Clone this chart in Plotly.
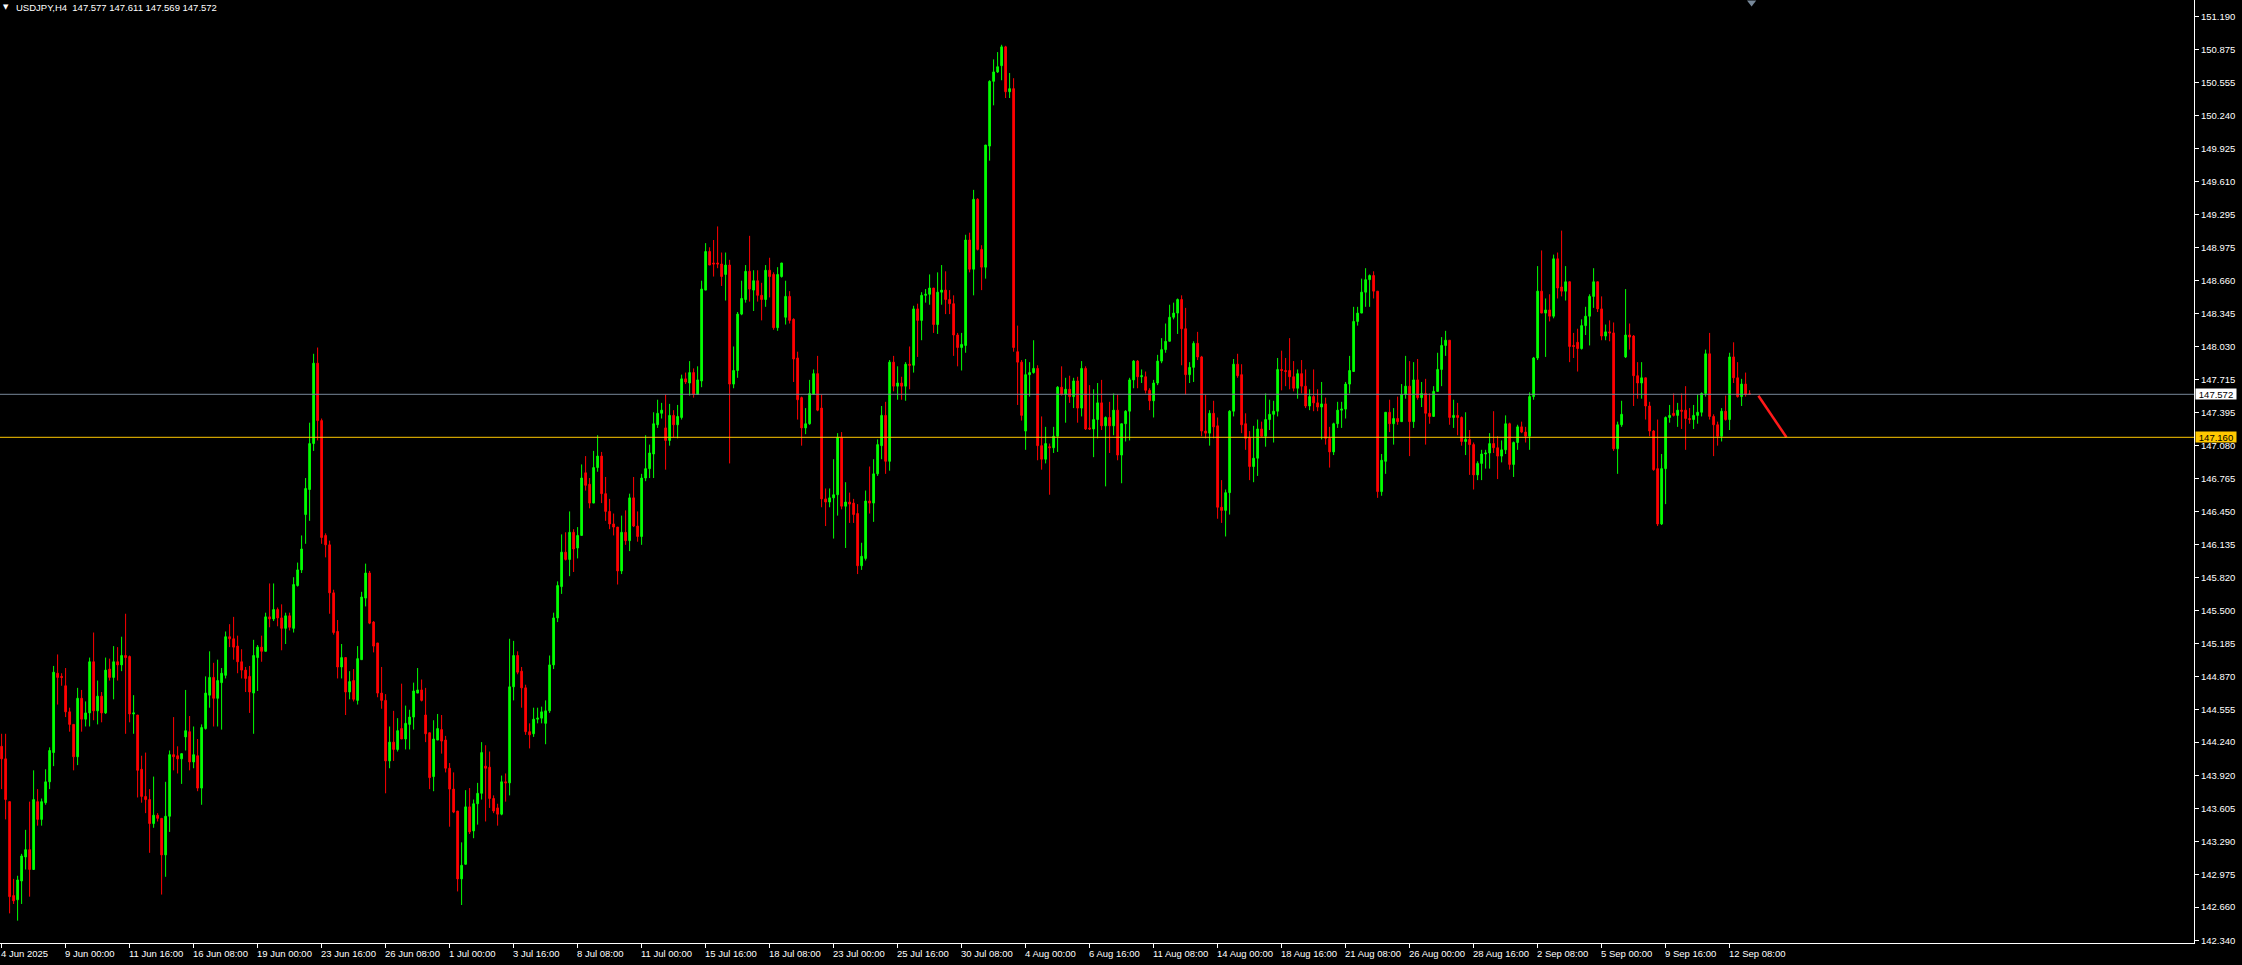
import plotly.graph_objects as go

# ---------------- data (USDJPY, H4) ----------------
symbol = "USDJPY,H4"

opens = [
144.20,144.08,143.67,142.77,142.73,142.91,143.14,143.21,143.02,143.67,
143.50,143.66,143.86,144.14,144.90,144.87,144.78,144.53,144.41,144.10,
144.66,144.46,144.52,145.01,144.54,144.68,144.52,144.94,144.86,145.01,
144.98,145.07,145.06,144.51,144.50,143.98,143.72,143.69,143.46,143.54,
143.51,143.16,143.53,144.12,144.11,144.08,144.29,144.34,144.05,144.11,
143.80,144.37,144.69,144.86,144.66,144.81,144.88,145.25,145.23,145.16,
145.01,144.93,144.87,144.71,145.05,145.15,145.11,145.44,145.42,145.51,
145.43,145.33,145.45,145.33,145.74,145.89,146.42,146.66,147.10,147.87,
147.32,146.22,146.13,145.67,145.30,144.96,145.05,144.72,144.83,144.64,
145.03,145.62,145.86,145.39,145.19,144.71,144.64,144.06,144.24,144.17,
144.37,144.27,144.41,144.48,144.71,144.74,144.50,144.33,143.91,144.26,
144.36,144.26,143.99,143.79,143.58,142.93,143.07,143.62,143.39,143.65,
143.75,144.01,144.00,143.70,143.61,143.55,143.86,143.85,144.77,145.07,
144.92,144.76,144.34,144.32,144.46,144.47,144.42,144.54,144.98,145.43,
145.73,146.06,145.99,146.25,146.10,146.22,146.82,146.71,146.53,146.87,
146.98,146.62,146.45,146.33,146.30,145.88,146.25,146.17,146.58,146.31,
146.21,146.77,146.86,147.00,147.28,147.39,147.25,147.13,147.37,147.28,
147.35,147.72,147.68,147.78,147.57,147.70,148.57,148.94,148.83,148.83,
148.82,148.72,148.81,147.67,147.80,148.34,148.48,148.75,148.57,148.66,
148.52,148.48,148.76,148.72,148.21,148.70,148.31,148.51,148.29,147.92,
147.54,147.25,147.29,147.57,147.77,147.44,146.57,146.54,146.58,146.61,
147.16,146.50,146.54,146.53,146.43,145.93,146.00,146.55,146.53,146.81,
147.08,147.37,146.93,147.88,147.65,147.68,147.65,147.86,147.85,148.39,
148.28,148.52,148.53,148.59,148.24,148.55,148.57,148.48,148.44,148.14,
148.02,148.04,149.05,148.77,149.44,148.96,148.79,149.95,150.57,150.66,
150.72,150.90,150.47,150.50,147.98,147.88,147.22,147.76,147.78,147.82,
147.08,146.95,147.07,147.06,147.17,147.64,147.57,147.62,147.55,147.70,
147.44,147.82,147.25,147.24,147.33,147.49,147.27,147.35,147.27,147.42,
146.99,147.29,147.41,147.71,147.89,147.74,147.74,147.61,147.51,147.68,
147.89,148.00,148.08,148.31,148.35,148.48,148.20,147.76,147.83,148.06,
147.93,147.22,147.20,147.39,147.27,146.49,146.46,146.63,147.41,147.86,
147.76,147.29,147.16,146.88,146.96,147.24,147.17,147.33,147.38,147.41,
147.81,147.80,147.80,147.74,147.63,147.77,147.65,147.46,147.55,147.49,
147.45,147.48,147.15,147.02,147.29,147.42,147.43,147.67,147.79,148.27,
148.35,148.55,148.67,148.71,148.56,146.64,146.93,147.40,147.29,147.34,
147.31,147.57,147.65,147.31,147.71,147.54,147.58,147.39,147.36,147.60,
147.81,148.04,148.09,147.35,147.37,147.35,147.12,147.14,147.09,146.80,
146.91,147.00,147.01,147.10,147.06,146.98,147.04,147.29,146.90,147.11,
147.26,147.21,147.17,147.55,147.92,148.56,148.35,148.38,148.32,148.87,
148.60,148.56,148.65,148.04,148.07,148.01,148.23,148.32,148.51,148.65,
148.39,148.13,148.17,148.16,147.05,147.28,147.93,148.14,148.13,147.75,
147.68,147.73,147.46,147.22,146.86,146.33,146.86,147.35,147.39,147.37,
147.42,147.42,147.34,147.33,147.37,147.40,147.58,147.96,147.36,147.28,
147.17,147.41,147.33,147.93,147.73,147.55,147.67,147.577]

highs = [
144.32,144.32,143.67,142.93,142.96,143.17,143.40,143.67,143.97,143.79,
143.70,143.98,144.19,144.97,145.08,144.90,144.95,144.57,144.41,144.76,
144.74,144.63,145.05,145.29,144.83,144.72,145.05,145.04,145.16,145.15,
145.25,145.47,145.07,144.69,144.50,144.11,144.14,143.79,143.91,143.56,
143.51,143.86,144.16,144.48,144.20,144.13,144.74,144.49,144.39,144.27,
144.41,144.87,145.11,145.00,145.03,144.95,145.30,145.37,145.44,145.26,
145.13,144.96,144.97,145.22,145.17,145.26,145.48,145.76,145.76,145.53,
145.56,145.48,145.48,145.82,145.96,146.22,146.77,147.30,147.96,148.02,
147.34,146.24,146.17,145.70,145.41,145.18,145.05,144.92,144.94,145.16,
145.68,145.95,145.88,145.40,145.19,144.96,144.70,144.39,144.54,144.47,
144.80,144.59,144.55,144.81,144.95,144.84,144.76,144.33,144.45,144.51,
144.50,144.30,144.04,143.95,143.58,143.28,143.78,143.80,143.69,143.85,
144.24,144.21,144.15,143.73,143.65,143.92,143.94,145.23,145.21,145.11,
144.96,144.79,144.42,144.57,144.57,144.58,144.64,145.07,145.48,145.78,
146.23,146.25,146.45,146.28,146.30,146.90,146.98,146.77,147.03,147.18,
147.02,146.78,146.57,146.43,146.30,146.41,146.46,146.62,146.78,146.45,
146.81,147.18,147.09,147.40,147.52,147.49,147.57,147.48,147.42,147.47,
147.76,147.78,147.89,147.82,147.84,148.66,149.02,148.98,149.05,149.18,
148.93,148.93,148.86,148.03,148.36,148.66,148.81,149.09,148.76,148.76,
148.64,148.81,148.88,148.74,148.79,148.83,148.66,148.56,148.30,147.98,
147.55,147.44,147.71,147.81,147.94,147.57,146.67,146.67,146.95,147.20,
147.21,146.73,146.63,146.57,146.52,146.15,146.65,146.88,146.95,147.14,
147.46,147.50,147.90,147.94,147.84,147.74,147.88,148.03,148.42,148.44,
148.55,148.58,148.72,148.59,148.74,148.81,148.75,148.57,148.52,148.16,
148.16,149.10,149.12,149.53,149.45,149.00,149.96,150.58,150.78,150.85,
150.92,150.91,150.65,150.60,148.23,147.90,147.91,147.88,148.09,147.85,
147.36,147.26,147.10,147.26,147.65,147.84,147.73,147.75,147.73,147.74,
147.89,147.84,147.66,147.62,147.68,147.71,147.36,147.50,147.58,147.57,
147.29,147.42,147.73,147.90,147.90,147.81,147.79,147.63,147.71,147.95,
148.11,148.25,148.43,148.45,148.49,148.52,148.40,147.88,148.08,148.17,
147.94,147.57,147.42,147.51,147.35,146.75,146.66,147.42,147.91,147.96,
147.86,147.39,147.22,147.27,147.33,147.31,147.58,147.52,147.51,147.92,
147.99,147.92,148.11,147.89,147.81,147.90,147.81,147.62,147.81,147.62,
147.69,147.54,147.26,147.30,147.50,147.50,147.69,147.94,148.41,148.41,
148.68,148.78,148.72,148.75,148.56,147.00,147.40,147.52,147.44,147.55,
147.67,147.94,147.89,147.88,147.91,147.69,147.72,147.58,147.65,147.97,
148.12,148.18,148.09,147.52,147.49,147.36,147.40,147.23,147.11,146.93,
147.04,147.04,147.20,147.41,147.17,147.13,147.37,147.30,147.12,147.28,
147.31,147.26,147.59,147.93,148.80,148.95,148.49,148.53,148.91,148.93,
149.14,148.80,148.65,148.16,148.20,148.29,148.41,148.53,148.78,148.65,
148.51,148.24,148.28,148.26,147.31,147.51,148.58,148.25,148.14,147.88,
147.88,147.73,147.50,147.23,147.33,147.00,147.36,147.47,147.58,147.49,
147.58,147.65,147.44,147.47,147.57,147.59,148.00,148.16,147.38,147.31,
147.44,147.56,147.97,148.07,147.88,147.72,147.78,147.611]

lows = [
143.79,143.50,142.60,142.69,142.53,142.69,143.02,142.76,143.02,143.44,
143.44,143.64,143.79,144.01,144.60,144.78,144.48,144.34,143.97,144.02,
144.34,144.39,144.39,144.45,144.41,144.43,144.51,144.83,144.65,144.83,
144.92,144.32,144.43,144.32,143.71,143.66,143.56,143.18,143.42,143.48,
142.78,142.95,143.38,143.97,143.94,143.84,144.16,143.97,143.99,143.77,
143.64,144.36,144.57,144.39,144.39,144.36,144.85,145.15,145.03,144.90,
144.85,144.72,144.52,144.32,144.73,145.01,145.11,145.34,145.40,145.35,
145.12,145.18,145.31,145.29,145.73,145.86,146.14,146.36,147.03,147.13,
146.14,146.01,145.47,145.27,144.85,144.85,144.50,144.65,144.63,144.60,
145.03,145.54,145.37,145.10,144.67,144.56,143.75,143.99,144.06,144.15,
144.27,144.17,144.17,144.36,144.71,144.63,144.24,143.79,143.77,144.26,
144.13,143.95,143.43,143.56,142.81,142.68,143.07,143.36,143.32,143.45,
143.69,143.48,143.61,143.56,143.44,143.54,143.67,143.73,144.64,144.89,
144.57,144.31,144.18,144.29,144.42,144.42,144.22,144.52,144.94,145.39,
145.66,145.98,145.83,145.87,146.00,146.22,146.65,146.48,146.53,146.83,
146.53,146.36,146.28,146.22,145.75,145.85,146.13,146.07,146.30,146.16,
146.13,146.74,146.77,146.77,147.25,147.34,146.85,147.08,147.16,147.15,
147.33,147.67,147.56,147.54,147.57,147.64,148.57,148.81,148.70,148.78,
148.61,148.47,146.91,147.63,147.73,148.33,148.45,148.46,148.37,148.46,
148.28,148.41,148.50,148.19,148.18,148.69,148.24,148.25,147.69,147.33,
147.08,147.19,147.28,147.57,147.41,146.49,146.31,146.49,146.19,146.41,
146.47,146.10,146.34,146.34,145.85,145.89,145.98,146.43,146.35,146.79,
146.95,146.81,146.84,147.60,147.52,147.52,147.51,147.62,147.78,147.93,
148.09,148.45,148.43,148.16,148.15,148.43,148.34,148.34,147.94,147.84,
147.80,147.97,148.74,148.52,148.95,148.57,148.68,149.81,150.34,150.65,
150.58,150.41,150.41,147.98,147.47,147.32,147.04,147.55,147.77,146.94,
146.85,146.91,146.61,147.01,147.02,147.56,147.30,147.49,147.44,147.30,
147.36,147.23,147.23,146.97,147.15,147.23,146.69,147.01,147.18,146.94,
146.72,147.12,147.13,147.63,147.63,147.68,147.58,147.42,147.35,147.66,
147.87,147.97,148.08,148.29,148.15,147.85,147.57,147.68,147.69,147.90,
147.17,147.15,147.08,147.15,146.38,146.34,146.21,146.42,147.36,147.73,
147.20,147.04,146.75,146.73,146.79,147.17,147.07,147.23,147.11,147.36,
147.61,147.65,147.62,147.60,147.53,147.58,147.44,147.42,147.41,147.41,
147.14,147.09,146.87,146.99,147.25,147.25,147.34,147.58,147.79,148.23,
148.35,148.41,148.41,148.49,146.58,146.60,146.81,147.21,147.09,147.28,
147.31,147.53,146.98,147.25,147.52,147.45,147.09,147.29,147.36,147.60,
147.65,147.94,147.28,147.25,147.18,147.08,146.99,146.80,146.66,146.75,
146.75,146.86,146.86,147.01,146.76,146.92,147.00,146.85,146.78,147.04,
147.20,147.11,147.04,147.52,147.90,148.35,147.93,148.27,148.30,148.49,
148.51,148.47,147.88,147.92,147.79,148.00,148.14,148.04,148.40,148.36,
148.09,148.09,148.08,147.03,146.81,147.26,147.92,148.00,147.46,147.53,
147.53,147.33,147.17,146.84,146.31,146.32,146.52,147.30,147.36,147.26,
147.24,147.04,147.29,147.24,147.29,147.36,147.55,147.33,146.98,147.08,
147.12,147.32,147.23,147.68,147.54,147.46,147.55,147.569]

closes = [
144.08,143.69,142.76,142.72,142.92,143.15,143.21,143.02,143.69,143.50,
143.67,143.86,144.16,144.91,144.86,144.86,144.53,144.41,144.10,144.66,
144.46,144.52,145.01,144.54,144.68,144.52,144.93,144.86,145.01,144.98,
145.07,145.05,144.51,144.52,143.97,143.72,143.69,143.46,143.54,143.51,
143.16,143.53,144.12,144.10,144.08,144.13,144.35,144.05,144.12,143.80,
144.38,144.71,144.86,144.66,144.83,144.90,145.25,145.23,145.15,145.01,
144.93,144.85,144.72,145.07,145.15,145.11,145.44,145.42,145.51,145.43,
145.33,145.45,145.34,145.75,145.89,146.09,146.67,147.10,147.87,147.32,
146.20,146.13,145.67,145.29,144.96,145.05,144.72,144.82,144.65,145.04,
145.63,145.86,145.38,145.16,144.71,144.64,144.06,144.24,144.17,144.35,
144.27,144.42,144.48,144.73,144.74,144.64,144.32,143.90,144.27,144.37,
144.25,143.99,143.79,143.57,142.93,143.06,143.62,143.38,143.65,143.75,
144.14,143.99,143.70,143.58,143.55,143.86,143.85,144.77,145.07,144.91,
144.76,144.34,144.31,144.46,144.47,144.53,144.54,144.98,145.43,145.74,
146.06,145.99,146.25,146.09,146.22,146.77,146.70,146.53,146.87,146.98,
146.62,146.45,146.33,146.30,145.88,146.25,146.17,146.58,146.31,146.21,
146.77,146.86,147.01,147.29,147.39,147.42,147.13,147.37,147.28,147.36,
147.72,147.69,147.78,147.57,147.71,148.58,148.94,148.81,148.82,148.82,
148.70,148.81,147.67,147.80,148.34,148.49,148.75,148.58,148.66,148.52,
148.48,148.76,148.70,148.21,148.72,148.83,148.51,148.28,147.91,147.52,
147.25,147.29,147.58,147.77,147.42,146.57,146.54,146.58,146.61,147.16,
146.50,146.54,146.52,146.42,145.93,146.02,146.55,146.53,146.81,147.09,
147.37,146.93,147.88,147.65,147.68,147.65,147.86,147.85,148.39,148.28,
148.52,148.53,148.59,148.24,148.55,148.57,148.48,148.44,148.14,148.02,
148.05,149.05,148.77,149.44,148.96,148.79,149.96,150.57,150.66,150.71,
150.90,150.47,150.50,148.02,147.88,147.37,147.76,147.78,147.82,147.08,
146.95,147.10,147.06,147.17,147.64,147.57,147.62,147.55,147.70,147.44,
147.82,147.24,147.24,147.33,147.49,147.27,147.35,147.27,147.42,146.99,
147.29,147.41,147.71,147.89,147.74,147.75,147.61,147.51,147.68,147.89,
148.00,148.08,148.31,148.35,148.48,148.20,147.76,147.83,148.06,147.93,
147.22,147.20,147.39,147.26,146.49,146.46,146.63,147.41,147.86,147.75,
147.28,147.15,146.88,146.96,147.24,147.17,147.33,147.38,147.41,147.81,
147.80,147.79,147.74,147.63,147.77,147.65,147.46,147.55,147.49,147.45,
147.48,147.15,147.02,147.29,147.42,147.43,147.67,147.80,148.27,148.35,
148.55,148.67,148.71,148.56,146.64,146.94,147.40,147.29,147.34,147.31,
147.57,147.65,147.31,147.71,147.54,147.58,147.39,147.36,147.60,147.81,
148.04,148.09,147.35,147.37,147.35,147.12,147.14,147.09,146.80,146.91,
147.00,147.01,147.10,147.06,146.98,147.04,147.29,146.90,147.11,147.26,
147.21,147.17,147.55,147.92,148.56,148.35,148.38,148.32,148.87,148.59,
148.56,148.65,148.03,148.03,148.01,148.23,148.32,148.51,148.65,148.39,
148.13,148.17,148.16,147.05,147.28,147.38,148.14,148.12,147.75,147.68,
147.73,147.46,147.22,146.85,146.33,146.86,147.35,147.37,147.37,147.42,
147.41,147.34,147.33,147.37,147.40,147.58,147.96,147.36,147.28,147.17,
147.41,147.33,147.93,147.73,147.55,147.67,147.57,147.572]

# time-axis labels (one every 16 H4 bars, starting at bar 0)
x_tick_labels = ["4 Jun 2025", "9 Jun 00:00", "11 Jun 16:00", "16 Jun 08:00", "19 Jun 00:00",
                 "23 Jun 16:00", "26 Jun 08:00", "1 Jul 00:00", "3 Jul 16:00", "8 Jul 08:00",
                 "11 Jul 00:00", "15 Jul 16:00", "18 Jul 08:00", "23 Jul 00:00", "25 Jul 16:00",
                 "30 Jul 08:00", "4 Aug 00:00", "6 Aug 16:00", "11 Aug 08:00", "14 Aug 00:00",
                 "18 Aug 16:00", "21 Aug 08:00", "26 Aug 00:00", "28 Aug 16:00", "2 Sep 08:00",
                 "5 Sep 00:00", "9 Sep 16:00", "12 Sep 08:00"]
bars_per_label = 16

# price-axis labels
y_tick_labels = ["151.190", "150.875", "150.555", "150.240", "149.925", "149.610", "149.295",
                 "148.975", "148.660", "148.345", "148.030", "147.715", "147.395", "147.080",
                 "146.765", "146.450", "146.135", "145.820", "145.500", "145.185", "144.870",
                 "144.555", "144.240", "143.920", "143.605", "143.290", "142.975", "142.660",
                 "142.340"]

bid_price = 147.572          # current bid line
level_price = 147.160        # horizontal level drawn by user
trend_x = [439.2, 446.2]     # trend line (bar index)
trend_y = [147.558, 147.160]
shift_bar = 437.5            # chart-shift marker position

# ---------------- figure ----------------
n = len(opens)
bar_index = list(range(n))
x_tick_pos = [k * bars_per_label for k in range(len(x_tick_labels))]
y_tick_vals = [float(v) for v in y_tick_labels]

Y_MIN, Y_MAX = 142.316, 151.349
X_MIN, X_MAX = -0.4, 548.1

FONT = "Liberation Sans, Arial, sans-serif"
WHITE = "#FFFFFF"
GREY = "#778899"
GOLD = "#FFC800"

fig = go.Figure()

fig.add_trace(go.Candlestick(
    x=bar_index, open=opens, high=highs, low=lows, close=closes,
    increasing=dict(line=dict(color="#00FF00", width=1), fillcolor="#00FF00"),
    decreasing=dict(line=dict(color="#FF0000", width=1), fillcolor="#FF0000"),
    whiskerwidth=0, hoverinfo="skip", showlegend=False,
))

fig.add_trace(go.Scatter(
    x=trend_x, y=trend_y, mode="lines",
    line=dict(color="#FF1A1A", width=2.5), hoverinfo="skip", showlegend=False,
))

fig.add_trace(go.Scatter(
    x=[shift_bar], y=[Y_MAX - 0.025], mode="markers",
    marker=dict(symbol="triangle-down", size=8, color=GREY, line=dict(width=0)),
    cliponaxis=False, hoverinfo="skip", showlegend=False,
))

shapes = [
    dict(type="line", xref="paper", x0=0, x1=1, yref="y", y0=bid_price, y1=bid_price,
         line=dict(color=GREY, width=1), layer="above"),
    dict(type="line", xref="paper", x0=0, x1=1, yref="y", y0=level_price, y1=level_price,
         line=dict(color=GOLD, width=1), layer="above"),
]

annotations = []
# time labels, left-aligned on their tick like MT4
for pos, lab in zip(x_tick_pos, x_tick_labels):
    annotations.append(dict(
        x=pos, y=0, xref="x", yref="paper", text=lab, showarrow=False,
        xanchor="left", yanchor="top", xshift=-3, yshift=-3,
        font=dict(family=FONT, size=9.5, color=WHITE),
    ))

# price boxes on the right axis
annotations.append(dict(
    x=1, y=bid_price, xref="paper", yref="y", text=f"{bid_price:.3f}", showarrow=False,
    xanchor="left", yanchor="middle", xshift=1, width=40, height=10, align="center",
    bgcolor=WHITE, borderpad=0, font=dict(family=FONT, size=9.5, color="#000000"),
))
annotations.append(dict(
    x=1, y=level_price, xref="paper", yref="y", text=f"{level_price:.3f}", showarrow=False,
    xanchor="left", yanchor="middle", xshift=1, width=40, height=10, align="center",
    bgcolor=GOLD, borderpad=0, font=dict(family=FONT, size=9.5, color="#000000"),
))

# header: symbol + OHLC of the last bar
header = f"{symbol}  {opens[-1]:.3f} {highs[-1]:.3f} {lows[-1]:.3f} {closes[-1]:.3f}"
annotations.append(dict(
    x=0, y=1, xref="paper", yref="paper", text=header, showarrow=False,
    xanchor="left", yanchor="top", xshift=14, yshift=0,
    font=dict(family=FONT, size=9.5, color=WHITE),
))
annotations.append(dict(
    x=0, y=1, xref="paper", yref="paper", text="▼", showarrow=False,
    xanchor="left", yanchor="top", xshift=1, yshift=-1,
    font=dict(family="DejaVu Sans", size=7, color=WHITE),
))

fig.update_layout(
    width=2242, height=965,
    margin=dict(l=0, r=48, t=0, b=22, pad=0),
    paper_bgcolor="#000000", plot_bgcolor="#000000",
    boxgap=0.4,
    font=dict(family=FONT, size=9.5, color=WHITE),
    showlegend=False,
    shapes=shapes,
    annotations=annotations,
    xaxis=dict(
        range=[X_MIN, X_MAX], showgrid=False, zeroline=False,
        showline=True, linecolor=WHITE, linewidth=1,
        tickmode="array", tickvals=x_tick_pos, showticklabels=False,
        ticks="outside", ticklen=4, tickcolor=WHITE, tickwidth=1,
        rangeslider=dict(visible=False), fixedrange=True, automargin=False,
    ),
    yaxis=dict(
        side="right", range=[Y_MIN, Y_MAX], showgrid=False, zeroline=False,
        showline=True, linecolor=WHITE, linewidth=1,
        tickmode="array", tickvals=y_tick_vals, ticktext=y_tick_labels,
        ticks="outside", ticklen=4, tickcolor=WHITE, tickwidth=1,
        tickfont=dict(family=FONT, size=9.5, color=WHITE),
        fixedrange=True, automargin=False,
    ),
)

# remove the browser's default page margin so the chart fills the window from (0, 0)
page_css = ("document.body.style.margin='0px';document.body.style.padding='0px';"
            "document.body.style.background='#000000';document.body.style.overflow='hidden';")

fig.write_html("out.html", config={"displayModeBar": False}, post_script=page_css)
